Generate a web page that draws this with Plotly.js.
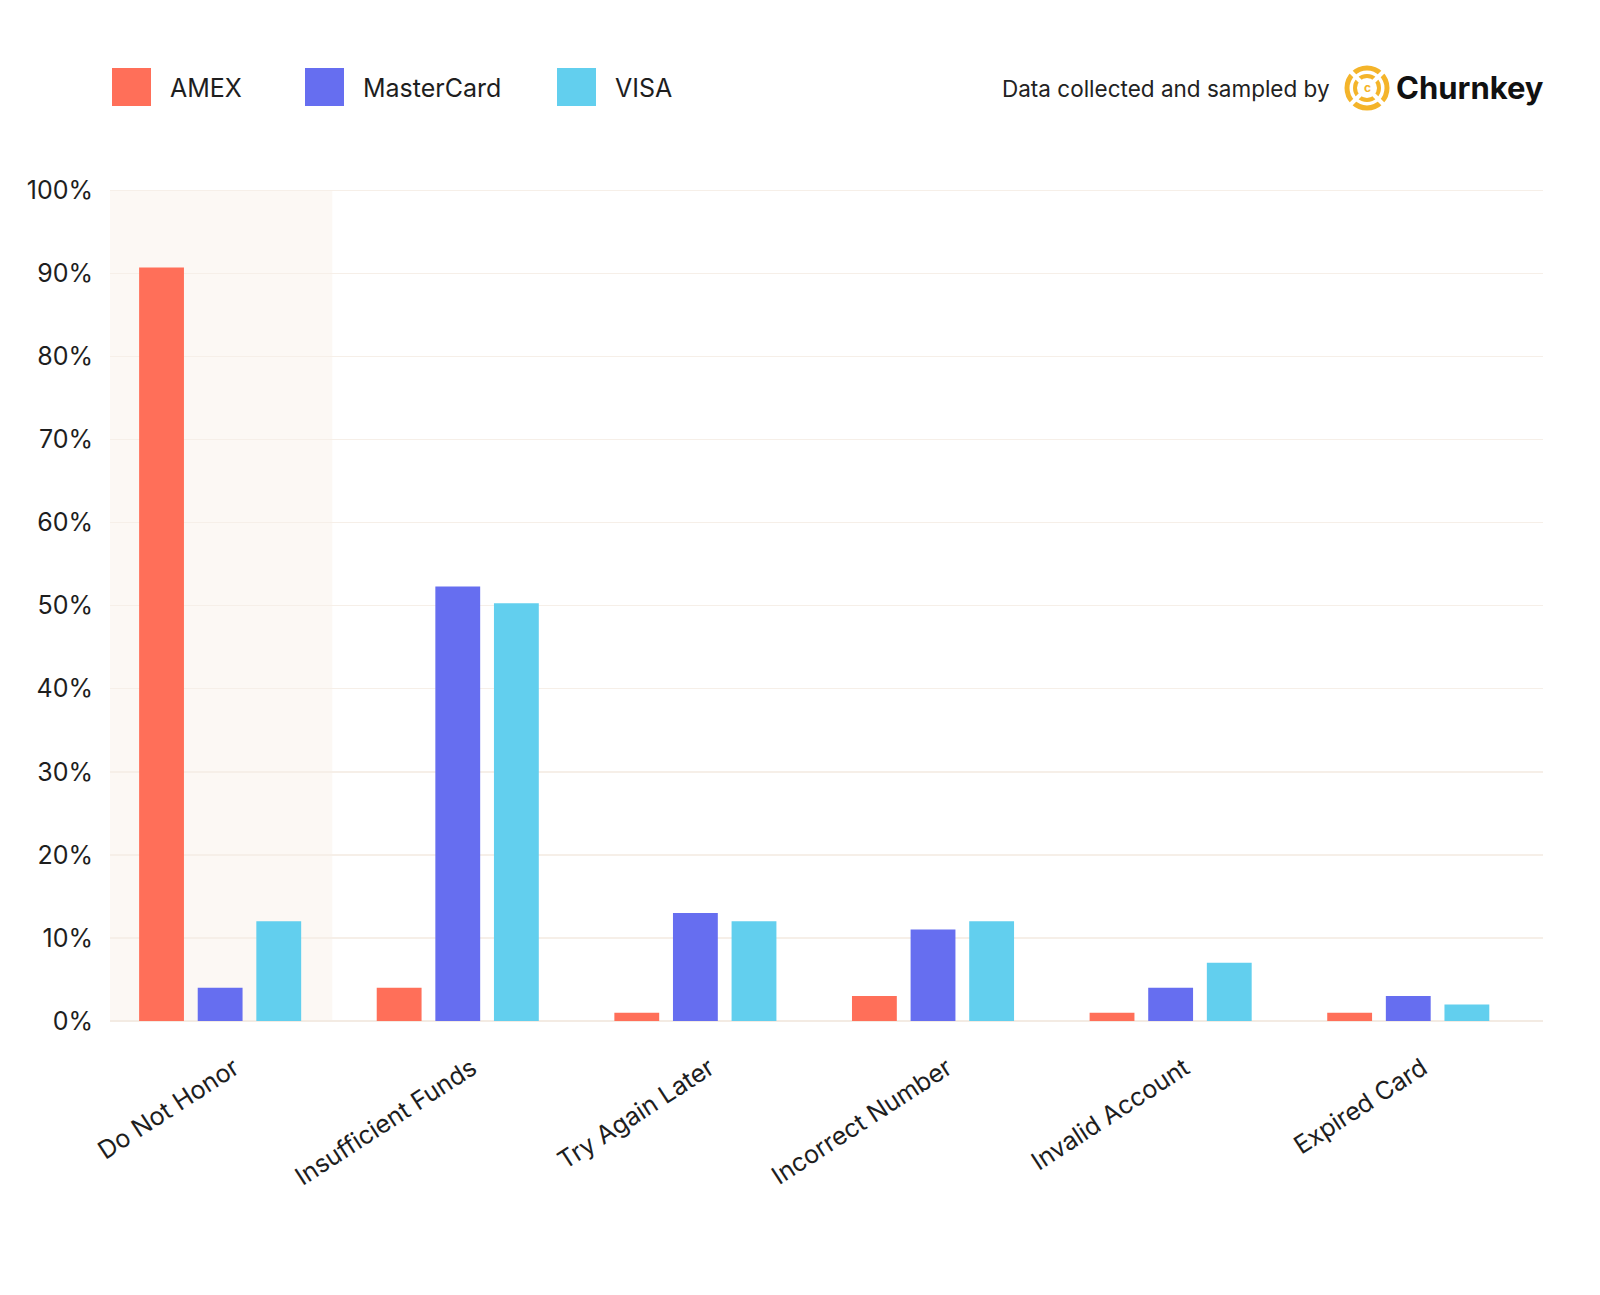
<!DOCTYPE html>
<html>
<head>
<meta charset="utf-8">
<script src="https://cdn.plot.ly/plotly-3.0.1.min.js"></script>
<style>
  html, body { margin: 0; padding: 0; background: #fff; }
  #plot { width: 1600px; height: 1295px; }
</style>
</head>
<body>
<div id="plot"></div>
<script>
const categories = ['Do Not Honor', 'Insufficient Funds', 'Try Again Later', 'Incorrect Number', 'Invalid Account', 'Expired Card'];
const amex = [90.7, 4, 1, 3, 1, 1];
const mastercard = [4, 52.3, 13, 11, 4, 3];
const visa = [12, 50.3, 12, 12, 7, 2];
const seriesNames = ['AMEX', 'MasterCard', 'VISA'];
const yTicks = [0, 10, 20, 30, 40, 50, 60, 70, 80, 90, 100];

const colors = ['#FF6F59', '#666EF0', '#62CFEE'];
const W = 1600, H = 1295;
const margin = { l: 110, r: 57, t: 189, b: 274 };
const plotW = W - margin.l - margin.r;
const plotH = H - margin.t - margin.b;

// pixel -> paper helpers for the header decorations
const px = (x) => (x - margin.l) / plotW;
const py = (y) => (H - margin.b - y) / plotH;

const data = [amex, mastercard, visa].map((vals, i) => ({
  x: categories,
  y: vals,
  name: seriesNames[i],
  type: 'bar',
  marker: { color: colors[i] },
  hoverinfo: 'x+y+name',
}));

const xMin = -0.4635, xMax = 5.567;

const shapes = [
  // highlighted first category
  {
    type: 'rect', xref: 'x', yref: 'y', x0: xMin, x1: 0.472, y0: 0, y1: 100,
    fillcolor: '#FCF8F4', line: { width: 0 }, layer: 'below',
  },
];
const annotations = [];

// custom legend
const legendX = [112, 305, 557];
seriesNames.forEach((name, i) => {
  shapes.push({
    type: 'rect', xref: 'paper', yref: 'paper',
    x0: px(legendX[i]), x1: px(legendX[i] + 39), y0: py(106), y1: py(68),
    fillcolor: colors[i], line: { width: 0 },
  });
  annotations.push({
    xref: 'paper', yref: 'paper', x: px(legendX[i] + 56), y: py(88),
    xanchor: 'left', yanchor: 'middle', showarrow: false, text: name,
    font: { family: 'Inter, sans-serif', size: 25, color: '#1e1e1e' },
  });
});

// credit line + logo
annotations.push({
  xref: 'paper', yref: 'paper', x: px(1332), y: py(89),
  xanchor: 'right', yanchor: 'middle', showarrow: false,
  text: 'Data collected and sampled by',
  font: { family: 'Inter, sans-serif', size: 22.5, color: '#222' },
});
annotations.push({
  xref: 'paper', yref: 'paper', x: px(1394), y: py(87),
  xanchor: 'left', yanchor: 'middle', showarrow: false,
  text: '<b>Churnkey</b>',
  font: { family: 'Inter, sans-serif', size: 31, color: '#111' },
});
const cx = 1367, cy = 88;
const gold = '#F4B42A';
[[20, 5], [12, 4]].forEach(([r, w]) => {
  shapes.push({
    type: 'circle', xref: 'paper', yref: 'paper',
    x0: px(cx - r), x1: px(cx + r), y0: py(cy + r), y1: py(cy - r),
    line: { color: gold, width: w }, fillcolor: 'rgba(0,0,0,0)',
  });
});
[[-1, -1], [1, -1]].forEach(([dx, dy]) => {
  shapes.push({
    type: 'line', xref: 'paper', yref: 'paper',
    x0: px(cx + dx * 26), x1: px(cx - dx * 26), y0: py(cy + dy * 26), y1: py(cy - dy * 26),
    line: { color: '#ffffff', width: 4 },
  });
});
annotations.push({
  xref: 'paper', yref: 'paper', x: px(cx), y: py(cy),
  xanchor: 'center', yanchor: 'middle', showarrow: false,
  text: '<b>c</b>', font: { family: 'Inter, sans-serif', size: 12, color: gold },
});

const layout = {
  width: W,
  height: H,
  margin,
  paper_bgcolor: '#ffffff',
  plot_bgcolor: '#ffffff',
  showlegend: false,
  barmode: 'group',
  bargap: 0.26,
  bargroupgap: 0.235,
  font: { family: 'Inter, sans-serif', color: '#1e1e1e' },
  xaxis: {
    type: 'category',
    tickangle: -33,
    tickfont: { size: 25, color: '#1e1e1e' },
    ticks: '',
    ticklabelstandoff: 27,
    ticklabelshift: 14,
    showgrid: false,
    showline: false,
    zeroline: false,
    range: [xMin, xMax],
  },
  yaxis: {
    range: [0, 100.15],
    tickvals: yTicks,
    ticktext: yTicks.map((v) => v + '%'),
    tickfont: { size: 25, color: '#1e1e1e' },
    ticklabelstandoff: 16,
    gridcolor: '#F6EFE8',
    gridwidth: 1.5,
    zeroline: true,
    zerolinecolor: '#F3EBE3',
    zerolinewidth: 2,
    showline: false,
    fixedrange: true,
  },
  shapes,
  annotations,
};

Plotly.newPlot('plot', data, layout, { displayModeBar: false, staticPlot: true });
</script>
</body>
</html>
